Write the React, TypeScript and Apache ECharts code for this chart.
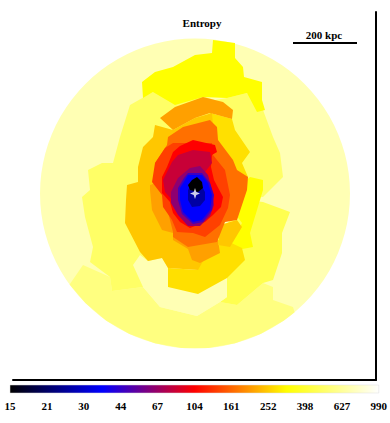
import React, { useEffect, useRef } from "react";
import * as echarts from "echarts";

const tickLabels = ["15", "21", "30", "44", "67", "104", "161", "252", "398", "627", "990"];
const tickValues = tickLabels.map(Number);
const colorStops = ["#000000", "#0000ff", "#ff0000", "#ffff00", "#ffffff"];

const discCentre = [195, 193.5];
const discRadius = 155;
const discEntropy = 706;

// Entropy of every binned region, painted from the outermost to the innermost.
const regionEntropy = [
  560, 500, 500, 452, 706, 317, 317, 276, 276, 247, 208, 208, 247, 168, 137, 104, 82, 64, 46, 36, 26, 15,
];
const regionOutlines: number[][][] = [
  // lower band, reaching the disc's rim
  [[69.6,284.6],[83,265],[110,277],[112,291],[143,287],[160,307],[197,316],[220,302],[237,305],[263,283],[273,287],[273,300],[293,307],[294.6,312.2],[284,320.5],[260.5,333.9],[235.1,343.2],[208.5,347.9],[181.5,347.9],[154.9,343.2],[129.5,333.9],[106,320.5],[85.4,303.1]],
  // left band
  [[153,92],[130,105],[120,137],[113,163],[102,163],[88,170],[90,190],[82,197],[85,217],[93,247],[90,262],[110,277],[112,291],[143,287],[170,270],[215,200],[215,100],[190,92]],
  // upper-right band
  [[227,98],[247,93],[263,110],[273,137],[280,153],[283,177],[263,197],[225,200],[215,100]],
  // lower-right band
  [[263,202],[290,212],[282,233],[282,253],[273,280],[263,283],[237,305],[220,302],[227,297],[227,278],[215,240],[245,200]],
  // pale patch below the core
  [[133,265],[140,255],[148,261],[162,258],[168,268],[168,287],[198,294],[227,278],[227,297],[220,302],[197,316],[160,307],[143,287]],
  // top yellow plume
  [[213,40],[235,43],[235,58],[243,67],[244,77],[262,82],[262,100],[265,110],[257,112],[247,93],[227,98],[203,97],[175,105],[153,92],[143,98],[142,82],[155,72],[173,67],[195,55],[212,53]],
  // right yellow patch
  [[250,177],[263,180],[263,190],[257,210],[250,233],[253,247],[237,250],[230,247],[242,223],[225,200]],
  // gold below the core
  [[168,268],[168,287],[198,294],[227,278],[245,260],[242,248],[225,240],[198,240],[198,270]],
  // gold strip upper right
  [[210,113],[232,119],[235,130],[250,152],[242,163],[248,177],[230,190],[200,130]],
  // left golden band
  [[155,125],[153,137],[143,147],[138,167],[138,182],[127,185],[126,200],[125,223],[140,252],[148,261],[162,258],[168,268],[198,270],[215,240],[215,150],[212,113],[195,118],[173,130]],
  // orange cap
  [[160,118],[175,107],[203,97],[223,102],[233,110],[232,119],[210,113],[195,118],[173,130]],
  // orange lower ring
  [[150,185],[150,190],[152,210],[162,230],[173,233],[173,240],[188,249],[192,260],[200,263],[220,253],[218,240],[195,220],[165,180]],
  // golden wedge lower right
  [[218,245],[230,247],[242,227],[237,220],[220,225]],
  // dark orange ring
  [[168,137],[183,127],[210,120],[217,127],[218,140],[233,160],[237,170],[248,177],[247,190],[237,220],[225,222],[217,242],[188,247],[173,237],[173,232],[165,200],[155,163],[167,145]],
  // red-orange ring
  [[173,143],[165,148],[155,163],[152,182],[162,195],[163,207],[172,220],[177,232],[193,233],[205,237],[220,225],[228,208],[230,195],[225,170],[213,155],[212,143]],
  // red ring
  [[173,152],[180,146],[193,140],[215,145],[217,152],[212,155],[211,167],[214,180],[223,197],[221,207],[213,215],[205,222],[190,228],[180,222],[173,213],[170,202],[162,193],[162,177],[167,167]],
  // crimson crescent
  [[163,180],[172,162],[178,155],[193,150],[210,152],[212,163],[205,172],[190,175],[177,190],[172,200],[165,192]],
  // purple ring
  [[178,178],[190,168],[200,166],[208,175],[212,190],[214,205],[210,216],[200,226],[188,226],[178,215],[171,203],[171,192]],
  // violet ring
  [[178,188],[184,178],[188,173],[202,173],[210,183],[214,195],[212,210],[203,222],[193,224],[182,214],[178,200]],
  // blue core
  [[180,188],[185,180],[188,175],[202,175],[208,183],[212,195],[210,210],[202,220],[193,222],[183,212],[180,200]],
  // dark blue core
  [[188,190],[192,183],[200,183],[205,192],[205,200],[200,206],[192,207],[188,200]],
  // black core
  [[188,185],[192,180],[197,177],[202,182],[203,188],[198,192],[190,190]],
];
const peakPosition = [[195, 193.5]];

function hexChannel(hex: string, i: number) {
  return parseInt(hex.slice(1 + i * 2, 3 + i * 2), 16);
}

function entropyColor(v: number) {
  let k = 0;
  while (k < tickValues.length - 2 && v > tickValues[k + 1]) k++;
  const local = Math.log(v / tickValues[k]) / Math.log(tickValues[k + 1] / tickValues[k]);
  const t = Math.min(1, Math.max(0, (k + local) / (tickValues.length - 1)));
  const s = t * (colorStops.length - 1);
  const i = Math.min(colorStops.length - 2, Math.floor(s));
  const f = s - i;
  const c = [0, 1, 2].map((n) =>
    Math.round(hexChannel(colorStops[i], n) * (1 - f) + hexChannel(colorStops[i + 1], n) * f)
  );
  return `rgb(${c[0]},${c[1]},${c[2]})`;
}

export default function App() {
  const ref = useRef<HTMLDivElement>(null);
  useEffect(() => {
    document.body.style.margin = "0";
    document.body.style.background = "#fff";
    const chart = echarts.init(ref.current!, null, { renderer: "svg" });
    const serif = "'Liberation Serif', 'Times New Roman', serif";
    chart.setOption({
      animation: false,
      backgroundColor: "#ffffff",
      title: {
        text: "Entropy",
        left: 197,
        top: 12,
        textAlign: "center",
        textStyle: { fontFamily: serif, fontSize: 11, fontWeight: "bold", color: "#000" },
      },
      grid: [
        { left: 13, right: 14, top: 12, height: 368 },
        { left: 10, width: 369, top: 385, height: 8 },
      ],
      xAxis: [
        {
          type: "value",
          gridIndex: 0,
          min: 13,
          max: 376,
          position: "bottom",
          axisLine: { show: true, onZero: false, lineStyle: { color: "#000", width: 2 } },
          axisTick: { show: false },
          axisLabel: { show: false },
          splitLine: { show: false },
        },
        {
          type: "category",
          gridIndex: 1,
          data: tickLabels,
          boundaryGap: false,
          axisLine: { show: false },
          axisTick: { show: false },
          splitLine: { show: false },
          axisLabel: {
            interval: 0,
            margin: 7,
            fontFamily: serif,
            fontSize: 11,
            fontWeight: "bold",
            color: "#000",
            hideOverlap: false,
          },
        },
      ],
      yAxis: [
        {
          type: "value",
          gridIndex: 0,
          min: 12,
          max: 380,
          inverse: true,
          position: "right",
          axisLine: { show: true, onZero: false, lineStyle: { color: "#000", width: 2 } },
          axisTick: { show: false },
          axisLabel: { show: false },
          splitLine: { show: false },
        },
        {
          type: "value",
          gridIndex: 1,
          min: 0,
          max: 1,
          show: false,
          splitLine: { show: false },
        },
      ],
      series: [
        {
          type: "custom",
          xAxisIndex: 0,
          yAxisIndex: 0,
          silent: true,
          clip: false,
          z: 1,
          data: [[discCentre[0], discCentre[1], discRadius]],
          renderItem: (_p: any, api: any) => {
            const c = api.coord([api.value(0), api.value(1)]);
            const r = api.size([api.value(2), 0])[0];
            return {
              type: "circle",
              shape: { cx: c[0], cy: c[1], r },
              style: { fill: entropyColor(discEntropy) },
            };
          },
        },
        {
          type: "custom",
          xAxisIndex: 0,
          yAxisIndex: 0,
          silent: true,
          clip: false,
          z: 2,
          data: regionEntropy.map((v, i) => [i, v]),
          renderItem: (p: any, api: any) => ({
            type: "polygon",
            shape: { points: regionOutlines[p.dataIndex].map((pt) => api.coord(pt)) },
            style: { fill: entropyColor(regionEntropy[p.dataIndex]) },
          }),
        },
        {
          type: "scatter",
          xAxisIndex: 0,
          yAxisIndex: 0,
          silent: true,
          z: 3,
          data: peakPosition,
          symbol: "path://M0,-5 L1.3,-1.3 L5,0 L1.3,1.3 L0,5 L-1.3,1.3 L-5,0 L-1.3,-1.3 Z",
          symbolSize: [10, 11],
          itemStyle: { color: "#ffffff" },
        },
        {
          type: "custom",
          xAxisIndex: 1,
          yAxisIndex: 1,
          silent: true,
          clip: false,
          z: 2,
          data: [[0, 0]],
          renderItem: (_p: any, api: any) => {
            const a = api.coord([0, 1]);
            const b = api.coord([tickLabels.length - 1, 0]);
            return {
              type: "rect",
              shape: { x: a[0], y: a[1], width: b[0] - a[0], height: b[1] - a[1] },
              style: {
                fill: new echarts.graphic.LinearGradient(
                  0,
                  0,
                  1,
                  0,
                  colorStops.map((color, i) => ({ offset: i / (colorStops.length - 1), color }))
                ),
                stroke: "#dddddd",
                lineWidth: 0.5,
              },
            };
          },
        },
      ],
      graphic: [
        {
          type: "text",
          x: 324,
          y: 29,
          style: {
            text: "200 kpc",
            fontFamily: serif,
            fontSize: 11,
            fontWeight: "bold",
            fill: "#000",
            textAlign: "center",
          },
        },
        {
          type: "line",
          shape: { x1: 293, y1: 43, x2: 357, y2: 43 },
          style: { stroke: "#000", lineWidth: 2 },
        },
      ],
    });
    return () => chart.dispose();
  }, []);
  return <div ref={ref} style={{ width: 390, height: 423 }} />;
}
